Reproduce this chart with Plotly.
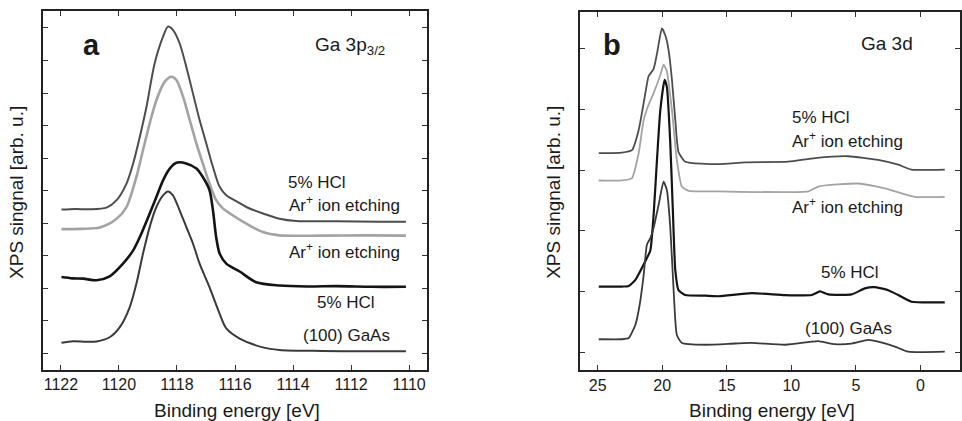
import plotly.graph_objects as go

W, H = 962, 421

# ---------------- Panel a : Ga 3p3/2 ----------------
a_hcl_ar_E = [1121.98, 1121.5, 1121.0, 1120.43, 1120.08, 1119.74, 1119.51, 1119.28, 1119.05, 1118.77, 1118.48, 1118.31,
              1118.14, 1117.91, 1117.68, 1117.45, 1117.22, 1116.99, 1116.76, 1116.53, 1116.30, 1115.84,
              1115.61, 1115.04, 1114.47, 1113.89, 1112.5, 1111.0, 1110.11]
a_hcl_ar_I = [4.42, 4.44, 4.43, 4.48, 4.71, 5.22, 5.84, 6.66, 7.58, 8.91, 9.73, 10.04,
              9.94, 9.53, 8.81, 7.99, 7.17, 6.45, 5.73, 5.12, 4.86, 4.62,
              4.50, 4.30, 4.14, 4.07, 4.06, 4.05, 4.05]

a_ar_E = [1121.98, 1121.3, 1120.66, 1120.08, 1119.74, 1119.40, 1119.17, 1118.94, 1118.71, 1118.42, 1118.19,
          1118.02, 1117.79, 1117.56, 1117.33, 1117.11, 1116.88, 1116.65, 1116.42, 1116.19, 1115.61,
          1115.04, 1114.47, 1113.0, 1111.5, 1110.11]
a_ar_I = [3.82, 3.83, 3.87, 4.14, 4.50, 5.42, 6.25, 7.07, 7.78, 8.35, 8.50,
          8.40, 7.89, 7.17, 6.45, 5.84, 5.22, 4.71, 4.46, 4.31, 3.99,
          3.73, 3.63, 3.62, 3.63, 3.62]

a_hcl_E = [1121.98, 1121.6, 1121.23, 1120.77, 1120.32, 1119.86, 1119.51, 1119.28, 1118.94, 1118.71, 1118.48,
           1118.25, 1118.02, 1117.68, 1117.33, 1117.11, 1116.88, 1116.76, 1116.65, 1116.53, 1116.30,
           1115.84, 1115.27, 1114.47, 1113.5, 1112.5, 1111.3, 1110.11]
a_hcl_I = [2.35, 2.31, 2.30, 2.25, 2.37, 2.76, 3.17, 3.58, 4.30, 4.81, 5.32,
           5.68, 5.86, 5.84, 5.68, 5.42, 5.02, 4.40, 3.58, 3.07, 2.76,
           2.52, 2.19, 2.09, 2.06, 2.07, 2.05, 2.05]

a_gaas_E = [1121.98, 1121.58, 1121.1, 1120.77, 1120.32, 1119.97, 1119.63, 1119.40, 1119.17, 1118.94, 1118.71,
            1118.48, 1118.31, 1118.14, 1117.91, 1117.68, 1117.45, 1117.22, 1116.88, 1116.53, 1116.30,
            1115.84, 1115.04, 1114.47, 1113.0, 1111.5, 1110.11]
a_gaas_I = [0.33, 0.38, 0.36, 0.37, 0.50, 0.81, 1.42, 2.14, 3.07, 3.89, 4.50,
            4.86, 4.98, 4.86, 4.40, 3.89, 3.38, 2.76, 2.04, 1.22, 0.77,
            0.46, 0.19, 0.11, 0.08, 0.07, 0.07]

# ---------------- Panel b : Ga 3d ----------------
b_hcl_ar_E = [24.92, 23.12, 22.35, 21.83, 21.31, 21.06, 20.67, 20.36, 20.03, 19.74,
              19.51, 19.25, 18.99, 18.74, 18.22, 15.64, 13.58, 10.23, 8.16, 5.59,
              3.27, 1.72, 0.69, -1.89]
b_hcl_ar_I = [3.28, 3.29, 3.33, 3.66, 4.27, 4.55, 4.67, 4.98, 5.34, 5.21,
              4.98, 4.49, 3.83, 3.30, 3.14, 3.10, 3.13, 3.14, 3.20, 3.23,
              3.17, 3.09, 3.01, 3.01]

b_ar_E = [24.92, 23.12, 22.35, 21.83, 21.44, 21.06, 20.67, 20.15, 19.90, 19.64,
          19.25, 18.87, 18.48, 17.96, 15.64, 8.68, 7.91, 4.81, 2.75, 0.43, -1.89]
b_ar_I = [2.83, 2.83, 2.87, 3.28, 3.83, 4.08, 4.27, 4.57, 4.74, 4.63,
          3.99, 3.17, 2.73, 2.66, 2.65, 2.65, 2.73, 2.78, 2.70, 2.56, 2.56]

b_hcl_E = [24.92, 23.12, 22.60, 22.08, 21.57, 21.19, 20.92, 20.67, 20.41, 20.15,
           19.82, 19.64, 19.38, 19.18, 18.99, 18.74, 18.22, 16.67, 15.64, 13.07,
           10.48, 8.43, 7.78, 7.13, 5.33, 4.30, 3.58, 2.49, 1.72, 0.69, -1.89]
b_hcl_I = [1.08, 1.08, 1.09, 1.19, 1.39, 1.55, 1.68, 2.26, 3.17, 3.99,
           4.49, 4.37, 3.45, 2.34, 1.35, 1.02, 0.94, 0.93, 0.92, 0.97,
           0.94, 0.94, 1.00, 0.95, 0.95, 1.05, 1.07, 1.02, 0.94, 0.83, 0.82]

b_gaas_E = [24.92, 23.12, 22.60, 22.08, 21.75, 21.44, 21.19, 20.92, 20.67, 20.28,
            19.90, 19.64, 19.38, 19.12, 18.87, 18.48, 16.67, 14.35, 13.07, 10.48,
            8.43, 7.91, 6.62, 5.33, 4.04, 3.27, 1.98, 0.95, -1.89]
b_gaas_I = [0.21, 0.21, 0.23, 0.45, 0.78, 1.27, 1.77, 1.88, 2.05, 2.43,
            2.81, 2.67, 2.06, 1.02, 0.28, 0.15, 0.12, 0.14, 0.15, 0.12,
            0.17, 0.18, 0.13, 0.14, 0.20, 0.17, 0.09, 0.005, 0.005]

a_xticks = [1122, 1120, 1118, 1116, 1114, 1112, 1110]
a_yticks = list(range(0, 11))
b_xticks = [25, 20, 15, 10, 5, 0]
b_yticks = list(range(0, 6))

FONT = "Liberation Sans, Arial, Helvetica, sans-serif"
TXT = "#1a1a1a"
C_HCL_AR = "#4d4d4d"
C_AR = "#a3a3a3"
C_HCL = "#141414"
C_GAAS = "#3a3a3a"


def px(x):
    return x / W


def py(y):
    return 1 - y / H


fig = go.Figure()

series_a = [(a_hcl_ar_E, a_hcl_ar_I, C_HCL_AR, 2.0),
            (a_ar_E, a_ar_I, C_AR, 2.6),
            (a_hcl_E, a_hcl_I, C_HCL, 2.6),
            (a_gaas_E, a_gaas_I, C_GAAS, 2.0)]
for xs, ys, c, w in series_a:
    fig.add_trace(go.Scatter(x=xs, y=ys, mode="lines",
                             line=dict(color=c, width=w, shape="spline", smoothing=0.8),
                             xaxis="x", yaxis="y", showlegend=False, hoverinfo="skip"))

series_b = [(b_hcl_ar_E, b_hcl_ar_I, C_HCL_AR, 1.8),
            (b_ar_E, b_ar_I, C_AR, 1.8),
            (b_hcl_E, b_hcl_I, C_HCL, 2.2),
            (b_gaas_E, b_gaas_I, C_GAAS, 1.8)]
for xs, ys, c, w in series_b:
    fig.add_trace(go.Scatter(x=xs, y=ys, mode="lines",
                             line=dict(color=c, width=w, shape="spline", smoothing=0.5),
                             xaxis="x2", yaxis="y2", showlegend=False, hoverinfo="skip"))

axis_common = dict(showline=True, linecolor="#222", linewidth=1.5, mirror="ticks",
                   ticks="inside", ticklen=5, tickwidth=1, tickcolor="#333",
                   showgrid=False, zeroline=False, fixedrange=True)

fig.update_layout(
    width=W, height=H,
    margin=dict(l=0, r=0, t=0, b=0),
    paper_bgcolor="white", plot_bgcolor="white",
    font=dict(family=FONT, color=TXT, size=16),
    xaxis=dict(domain=[px(43), px(428)], range=[1122.62, 1109.38], tickvals=a_xticks,
               ticktext=[str(v) for v in a_xticks], anchor="y",
               tickfont=dict(size=16, color=TXT), **axis_common),
    yaxis=dict(domain=[py(369.5), py(11)], range=[-0.49, 10.52], tickvals=a_yticks,
               showticklabels=False, anchor="x", **axis_common),
    xaxis2=dict(domain=[px(581), 1.0], range=[26.39, -3.07], tickvals=b_xticks,
                ticktext=[str(v) for v in b_xticks], anchor="y2",
                tickfont=dict(size=16, color=TXT), **axis_common),
    yaxis2=dict(domain=[py(370), py(12)], range=[-0.297, 5.61], tickvals=b_yticks,
                showticklabels=False, anchor="x2", **axis_common),
)

annotations = []


def label(text, x, y, size=17, xanchor="left", bold=False, angle=0):
    t = f"<b>{text}</b>" if bold else text
    annotations.append(dict(text=t, x=px(x), y=py(y), xref="paper", yref="paper",
                            showarrow=False, xanchor=xanchor, yanchor="middle",
                            textangle=angle, font=dict(size=size, color=TXT, family=FONT)))


# panel a texts
label("a", 92, 45, size=29, xanchor="center", bold=True)
label("Ga 3p<sub>3/2</sub>", 388, 46, size=19, xanchor="right")
label("5% HCl", 287, 182)
label("Ar<sup>+</sup> ion etching", 288, 204)
label("Ar<sup>+</sup> ion etching", 288, 251)
label("5% HCl", 316, 302)
label("(100) GaAs", 302, 335)
label("Binding energy [eV]", 237.5, 410, size=19, xanchor="center")
label("XPS singnal [arb. u.]", 17, 192, size=19, xanchor="center", angle=-90)

# panel b texts
label("b", 613, 45, size=29, xanchor="center", bold=True)
label("Ga 3d", 917, 43, size=19, xanchor="right")
label("5% HCl", 792, 117)
label("Ar<sup>+</sup> ion etching", 792, 140)
label("Ar<sup>+</sup> ion etching", 792, 206)
label("5% HCl", 821, 272)
label("(100) GaAs", 805, 328)
label("Binding energy [eV]", 773.5, 410, size=19, xanchor="center")
label("XPS singnal [arb. u.]", 555, 192, size=19, xanchor="center", angle=-90)

fig.update_layout(annotations=annotations)

fig.write_html("out.html", config={"displayModeBar": False})
